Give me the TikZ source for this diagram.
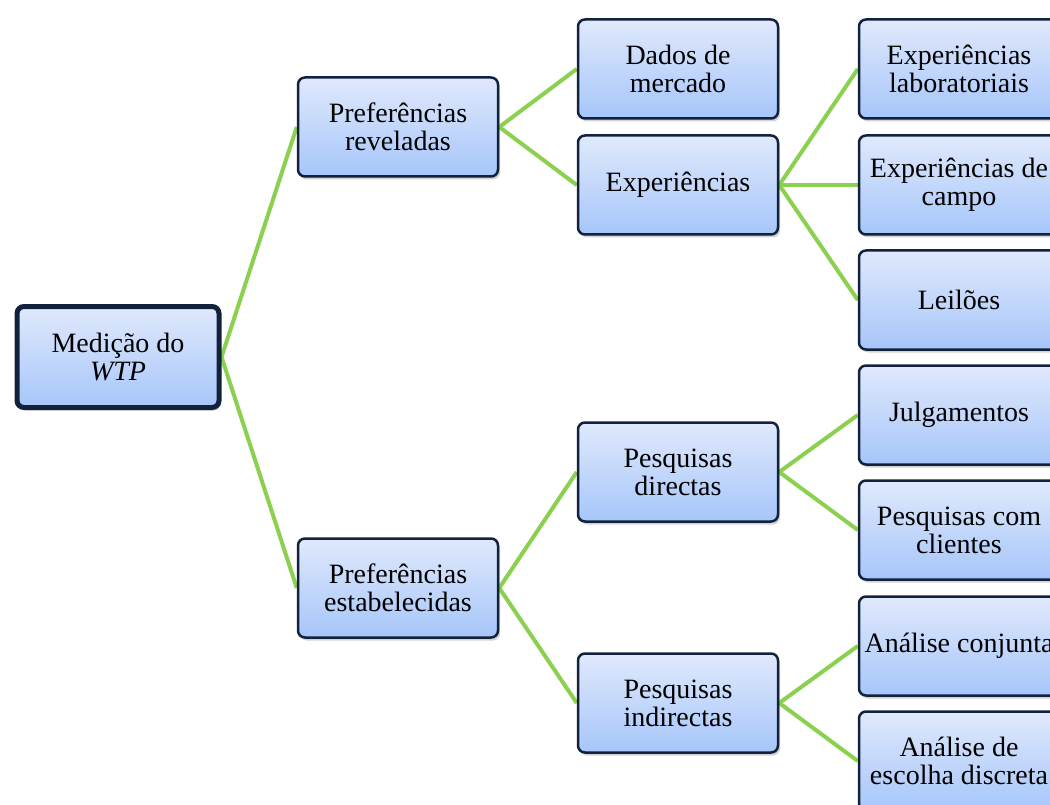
\documentclass[tikz,border=0pt]{standalone}
\usepackage{fontspec}
\setmainfont{Liberation Serif}
\usetikzlibrary{shadows,backgrounds}
\definecolor{boxline}{RGB}{18,34,60}
\definecolor{boxtop}{RGB}{224,233,252}
\definecolor{boxbot}{RGB}{166,198,250}
\definecolor{branch}{RGB}{140,208,80}
\begin{document}
\begin{tikzpicture}[x=1pt,y=-1pt,
  card/.style={draw=boxline, line width=2.5pt, rounded corners=7pt,
    top color=boxtop, bottom color=boxbot,
    minimum width=200pt, minimum height=99pt, inner xsep=0pt, inner ysep=2pt,
    align=center, text=black, font=\fontsize{28}{28}\selectfont,
    drop shadow={opacity=0.35, shadow xshift=2pt, shadow yshift=-3pt}},
  rootcard/.style={card, line width=5pt, minimum width=202pt, minimum height=101pt},
  link/.style={draw=branch, line width=4pt}]
\useasboundingbox (0,0) rectangle (1050,805);
\clip (0,0) rectangle (1050,805);

% root
\node[rootcard] (root) at (118,357) {Medição do\\\textit{WTP}};

% first level
\node[card] (rev) at (398,127) {Preferências\\reveladas};
\node[card] (est) at (398,588) {Preferências\\estabelecidas};

% second level
\node[card] (mer) at (678,69)  {Dados de\\mercado};
\node[card] (exp) at (678,185) {Experiências};
\node[card] (dir) at (678,472) {Pesquisas\\directas};
\node[card] (ind) at (678,703) {Pesquisas\\indirectas};

% third level
\node[card] (lab) at (959,69)  {Experiências\\laboratoriais};
\node[card] (cam) at (959,185) {Experiências de\\campo};
\node[card] (lei) at (959,300) {Leilões};
\node[card] (jul) at (959,415) {Julgamentos};
\node[card] (cli) at (959,530) {Pesquisas com\\clientes};
\node[card] (con) at (959,646) {Análise conjunta};
\node[card] (dis) at (959,761) {Análise de\\escolha discreta};

% branches
\begin{scope}[on background layer]
  \draw[link] (root.east) -- (rev.west);
  \draw[link] (root.east) -- (est.west);
  \draw[link] (rev.east) -- (mer.west);
  \draw[link] (rev.east) -- (exp.west);
  \draw[link] (est.east) -- (dir.west);
  \draw[link] (est.east) -- (ind.west);
  \draw[link] (exp.east) -- (lab.west);
  \draw[link] (exp.east) -- (cam.west);
  \draw[link] (exp.east) -- (lei.west);
  \draw[link] (dir.east) -- (jul.west);
  \draw[link] (dir.east) -- (cli.west);
  \draw[link] (ind.east) -- (con.west);
  \draw[link] (ind.east) -- (dis.west);
\end{scope}
\end{tikzpicture}
\end{document}
